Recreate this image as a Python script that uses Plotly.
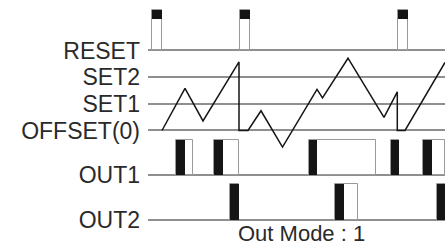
import plotly.graph_objects as go

# ---- data ----
level_names = ["RESET", "SET2", "SET1", "OFFSET(0)", "OUT1", "OUT2"]
level_values = [3.0, 2.0, 1.0, 0.0, -1.67, -3.36]

wave_t = [162, 185, 203, 239, 239, 248, 261, 282.5, 317, 322.5, 348, 384, 397.3, 397.3, 405, 445]
wave_v = [0, 1.58, 0.36, 2.57, 0, 0, 0.74, -0.62, 1.54, 1.22, 2.71, 0.49, 1.45, 0, 0, 2.55]

reset_start = [152, 240, 397.5]
reset_width = [10, 9.5, 10]

out1_on = [176, 214, 308.5, 390.5, 422.5]
out1_black_w = [8.7, 8.7, 8.5, 8.5, 9.2]
out1_off = [193, 239.3, 376, 399, 445]

out2_on = [229.5, 334.5, 436.7]
out2_black_w = [9.6, 9.8, 9]
out2_off = [239, 358.3, 445.5]

mode_text = "Out Mode : 1"

# ---- style ----
GRID = "#8f8f8f"
EDGE = "#9a9a9a"
INK = "#151515"
TXT = "#2a2a2a"
FONT = "Liberation Sans, Arial, sans-serif"

reset_lvl = level_values[0]
out1_lvl = level_values[4]
out2_lvl = level_values[5]
reset_top, reset_black_h = 1.52, 0.34
out1_h = 1.31
out2_h = 1.37

fig = go.Figure()

# reset pulses: white body + black cap
fig.add_trace(go.Bar(x=reset_start, y=[reset_top] * 3, base=[reset_lvl] * 3,
                     width=reset_width, offset=0, marker_color="white",
                     marker_line_color=EDGE, marker_line_width=1, showlegend=False))
fig.add_trace(go.Bar(x=reset_start, y=[reset_black_h] * 3,
                     base=[reset_lvl + reset_top - reset_black_h] * 3,
                     width=reset_width, offset=0, marker_color=INK,
                     marker_line_width=0, showlegend=False))

# OUT1 pulses
fig.add_trace(go.Bar(x=out1_on, y=[out1_h] * len(out1_on), base=[out1_lvl] * len(out1_on),
                     width=[b - a for a, b in zip(out1_on, out1_off)], offset=0,
                     marker_color="white", marker_line_color=EDGE, marker_line_width=1,
                     showlegend=False))
fig.add_trace(go.Bar(x=out1_on, y=[out1_h] * len(out1_on), base=[out1_lvl] * len(out1_on),
                     width=out1_black_w, offset=0, marker_color=INK,
                     marker_line_width=0, showlegend=False))

# OUT2 pulses
fig.add_trace(go.Bar(x=out2_on, y=[out2_h] * len(out2_on), base=[out2_lvl] * len(out2_on),
                     width=[b - a for a, b in zip(out2_on, out2_off)], offset=0,
                     marker_color="white", marker_line_color=EDGE, marker_line_width=1,
                     showlegend=False))
fig.add_trace(go.Bar(x=out2_on, y=[out2_h] * len(out2_on), base=[out2_lvl] * len(out2_on),
                     width=out2_black_w, offset=0, marker_color=INK,
                     marker_line_width=0, showlegend=False))

# waveform
fig.add_trace(go.Scatter(x=wave_t, y=wave_v, mode="lines",
                         line=dict(color=INK, width=1.5), showlegend=False))

fig.add_annotation(x=301, y=0, xref="x", yref="paper", yanchor="bottom",
                   text=mode_text, showarrow=False,
                   font=dict(family=FONT, size=22, color=TXT))

fig.update_layout(
    width=445, height=248,
    margin=dict(l=148, r=0, t=0, b=0),
    paper_bgcolor="white", plot_bgcolor="white",
    barmode="overlay", bargap=0,
    font=dict(family=FONT, size=22, color=TXT),
)
fig.update_xaxes(range=[148, 445], showgrid=False, zeroline=False, showticklabels=False,
                 showline=False, ticks="")
fig.update_yaxes(range=[-4.406, 4.893], tickvals=level_values, ticktext=level_names,
                 showgrid=True, gridcolor=GRID, gridwidth=1.5, zeroline=False,
                 showline=False, ticks="", ticklabelstandoff=7,
                 tickfont=dict(family=FONT, size=23, color=TXT))

fig.write_html("out.html", config={"displayModeBar": False},
               post_script="document.body.style.margin='0';document.body.style.padding='0';")
